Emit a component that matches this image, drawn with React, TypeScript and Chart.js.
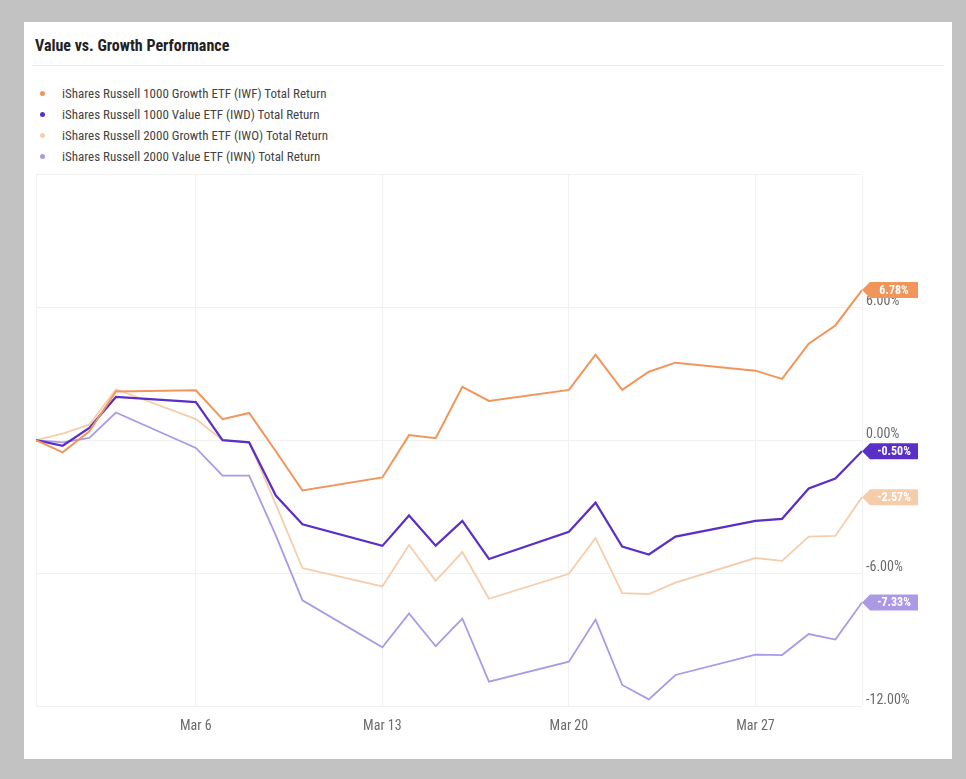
import React, { useEffect, useRef } from "react";
import { Chart, registerables } from "chart.js";

Chart.register(...registerables);

const title = "Value vs. Growth Performance";

const dates = [
  "2023-02-28", "2023-03-01", "2023-03-02", "2023-03-03", "2023-03-06", "2023-03-07",
  "2023-03-08", "2023-03-09", "2023-03-10", "2023-03-13", "2023-03-14", "2023-03-15",
  "2023-03-16", "2023-03-17", "2023-03-20", "2023-03-21", "2023-03-22", "2023-03-23",
  "2023-03-24", "2023-03-27", "2023-03-28", "2023-03-29", "2023-03-30", "2023-03-31",
];

const seriesNames = [
  "iShares Russell 1000 Growth ETF (IWF) Total Return",
  "iShares Russell 1000 Value ETF (IWD) Total Return",
  "iShares Russell 2000 Growth ETF (IWO) Total Return",
  "iShares Russell 2000 Value ETF (IWN) Total Return",
];

const iwf = [0, -0.55, 0.4, 2.2, 2.25, 0.95, 1.23, -0.5, -2.27, -1.68, 0.23, 0.09, 2.41, 1.77, 2.27, 3.86, 2.27, 3.09, 3.5, 3.14, 2.77, 4.36, 5.18, 6.78];
const iwd = [0, -0.25, 0.55, 1.95, 1.72, 0.0, -0.1, -2.5, -3.8, -4.77, -3.4, -4.76, -3.64, -5.36, -4.13, -2.82, -4.8, -5.16, -4.35, -3.64, -3.55, -2.18, -1.73, -0.5];
const iwo = [0, 0.3, 0.7, 2.3, 0.95, 0.0, -0.1, -2.9, -5.77, -6.6, -4.73, -6.35, -5.05, -7.16, -6.03, -4.41, -6.9, -6.95, -6.43, -5.32, -5.45, -4.35, -4.32, -2.57];
const iwn = [0, -0.1, 0.1, 1.25, -0.35, -1.6, -1.6, -4.3, -7.23, -9.35, -7.82, -9.3, -8.05, -10.9, -10.0, -8.1, -11.05, -11.7, -10.6, -9.68, -9.7, -8.75, -9.0, -7.33];

const seriesValues = [iwf, iwd, iwo, iwn];
const seriesColors = ["#f2955a", "#5a2fc8", "#f6cdab", "#ab99e6"];
const seriesWidths = [2, 2.2, 1.8, 1.8];

const xTickDates = ["2023-02-28", "2023-03-06", "2023-03-13", "2023-03-20", "2023-03-27", "2023-03-31"];
const xTickLabels = ["", "Mar 6", "Mar 13", "Mar 20", "Mar 27", ""];

const yMin = -12;
const yMax = 12;
const yStep = 6;

const FONT = "'Roboto Condensed', 'Liberation Sans Narrow', 'Arial Narrow', Roboto, sans-serif";

const dayOf = (s: string) => {
  const [y, m, d] = s.split("-").map(Number);
  return Math.round((Date.UTC(y, m - 1, d) - Date.UTC(2023, 1, 28)) / 86400000);
};

const badgePlugin = {
  id: "endBadges",
  afterDatasetsDraw(chart: any) {
    const ctx = chart.ctx;
    chart.data.datasets.forEach((ds: any, i: number) => {
      const meta = chart.getDatasetMeta(i);
      const pt = meta.data[meta.data.length - 1];
      if (!pt) return;
      const x = pt.x;
      const y = pt.y;
      const h = 16;
      const tip = 8;
      const w = 56;
      ctx.save();
      ctx.fillStyle = ds.borderColor;
      ctx.beginPath();
      ctx.moveTo(x, y);
      ctx.lineTo(x + tip, y - h / 2);
      ctx.lineTo(x + w, y - h / 2);
      ctx.lineTo(x + w, y + h / 2);
      ctx.lineTo(x + tip, y + h / 2);
      ctx.closePath();
      ctx.fill();
      const v = ds.data[ds.data.length - 1].y;
      ctx.fillStyle = "#ffffff";
      ctx.font = "bold 12px " + FONT;
      ctx.textAlign = "center";
      ctx.textBaseline = "middle";
      ctx.fillText(v.toFixed(2) + "%", x + tip + (w - tip) / 2, y + 0.5);
      ctx.restore();
    });
  },
};

export default function App() {
  const ref = useRef<HTMLCanvasElement | null>(null);

  useEffect(() => {
    if (!ref.current) return;
    const xs = dates.map(dayOf);
    const tickPos = xTickDates.map(dayOf);
    const chart = new Chart(ref.current, {
      type: "line",
      data: {
        datasets: seriesNames.map((name, i) => ({
          label: name,
          data: seriesValues[i].map((v, j) => ({ x: xs[j], y: v })),
          borderColor: seriesColors[i],
          backgroundColor: seriesColors[i],
          borderWidth: seriesWidths[i],
          pointRadius: 0,
          tension: 0,
          fill: false,
        })),
      },
      options: {
        animation: false,
        responsive: false,
        events: [],
        layout: { padding: { left: 11, top: 6, right: 0, bottom: 0 } },
        plugins: {
          legend: { display: false },
          tooltip: { enabled: false },
        },
        scales: {
          x: {
            type: "linear",
            min: tickPos[0],
            max: tickPos[tickPos.length - 1],
            afterBuildTicks: (scale: any) => {
              scale.ticks = tickPos.map((v) => ({ value: v }));
            },
            afterFit: (scale: any) => {
              scale.height = 34;
            },
            ticks: {
              autoSkip: false,
              maxRotation: 0,
              padding: 12,
              color: "#6b6b6b",
              font: { family: FONT, size: 14 },
              callback: (v: any) => {
                const k = tickPos.indexOf(Number(v));
                return k >= 0 ? xTickLabels[k] : "";
              },
            },
            grid: { color: "#f1f1f1", drawTicks: false, lineWidth: 1 },
            border: { display: false },
          },
          y: {
            position: "right",
            min: yMin,
            max: yMax,
            afterFit: (scale: any) => {
              scale.width = 90;
            },
            ticks: {
              stepSize: yStep,
              padding: 4,
              labelOffset: -6,
              color: "#6b6b6b",
              font: { family: FONT, size: 14 },
              callback: (v: any) => (Number(v) >= yMax ? "" : Number(v).toFixed(2) + "%"),
            },
            grid: { color: "#f1f1f1", drawTicks: false, lineWidth: 1 },
            border: { display: false },
          },
        },
      },
      plugins: [badgePlugin],
    } as any);
    return () => chart.destroy();
  }, []);

  return (
    <div style={{ position: "fixed", left: 0, top: 0, width: 966, height: 779, background: "#c2c2c2", overflow: "hidden" }}>
      <div style={{ position: "absolute", left: 24, top: 22, width: 928, height: 737, background: "#ffffff" }}>
        <div
          style={{
            position: "absolute",
            left: 11,
            top: 14,
            fontFamily: FONT,
            fontWeight: 700,
            fontSize: 16,
            color: "#222",
            whiteSpace: "nowrap",
          }}
        >
          {title}
        </div>
        <div style={{ position: "absolute", left: 8, top: 43, width: 912, height: 1, background: "#ececec" }} />
        <div style={{ position: "absolute", left: 16, top: 61 }}>
          {seriesNames.map((n, i) => (
            <div key={n} style={{ display: "flex", alignItems: "center", height: 21 }}>
              <span
                style={{
                  display: "inline-block",
                  width: 5,
                  height: 5,
                  borderRadius: "50%",
                  background: seriesColors[i],
                  marginRight: 17,
                }}
              />
              <span style={{ fontFamily: FONT, fontSize: 13, color: "#444", whiteSpace: "nowrap" }}>{n}</span>
            </div>
          ))}
        </div>
        <canvas ref={ref} width={928} height={578} style={{ position: "absolute", left: 0, top: 140, width: 928, height: 578 }} />
      </div>
    </div>
  );
}
